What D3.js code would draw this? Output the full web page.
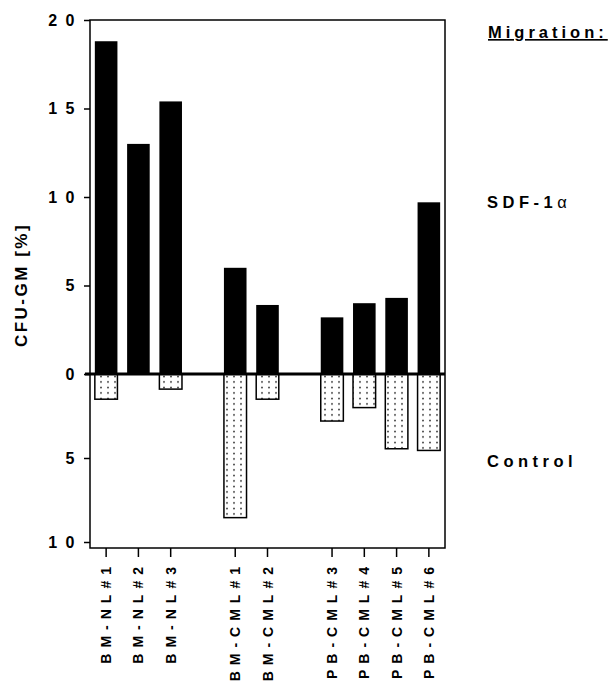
<html>

<head>
    <script src="https://cdnjs.cloudflare.com/ajax/libs/d3/7.1.1/d3.js"></script>
    <style>
        body { margin: 0; background: #fff; }
        text { font-family: 'Liberation Sans', Arial, Helvetica, sans-serif; font-weight: bold; }
    </style>
</head>

<body>
    <script>
        // samples, in plot order
        const categories = ['BM-NL#1', 'BM-NL#2', 'BM-NL#3', 'BM-CML#1', 'BM-CML#2',
            'PB-CML#3', 'PB-CML#4', 'PB-CML#5', 'PB-CML#6'];
        // an empty slot is left after these
        const gapAfter = ['BM-NL#3', 'BM-CML#2'];
        // CFU-GM [%] migrated towards SDF-1alpha (drawn up)
        const sdfValues = [18.8, 13.0, 15.4, 6.0, 3.9, 3.2, 4.0, 4.3, 9.7];
        // CFU-GM [%] migrated in control wells (drawn down)
        const controlValues = [1.5, 0, 0.9, 8.55, 1.5, 2.8, 2.0, 4.45, 4.55];
        const yTicks = [-10, -5, 0, 5, 10, 15, 20];

        const width = 615;
        const height = 683;
        const box = { left: 90, right: 445, top: 20, bottom: 548 };

        const slots = [];
        categories.forEach(c => {
            slots.push(c);
            if (gapAfter.includes(c)) {
                slots.push('gap' + slots.length);
            }
        });

        const svg = d3.select('body').append('svg')
            .attr('width', width)
            .attr('height', height);

        // dotted fill of the control bars
        const pattern = svg.append('defs').append('pattern')
            .attr('id', 'dots')
            .attr('patternUnits', 'userSpaceOnUse')
            .attr('width', 7)
            .attr('height', 5.5);
        pattern.append('rect')
            .attr('width', 7)
            .attr('height', 5.5)
            .attr('fill', 'white');
        pattern.append('circle')
            .attr('cx', 3)
            .attr('cy', 2.5)
            .attr('r', 0.8)
            .attr('fill', 'black');

        const x = d3.scaleBand()
            .domain(slots)
            .range([box.left, box.right])
            .paddingInner(0.3)
            .paddingOuter(0.15);

        // the lower half of the original axis is a little more compressed
        const y = d3.scaleLinear()
            .domain([-10, 0, 20])
            .range([542, 374, 20]);

        // SDF-1a bars
        svg.selectAll('.sdf')
            .data(categories)
            .enter().append('rect')
            .attr('class', 'sdf')
            .attr('x', d => x(d))
            .attr('width', x.bandwidth())
            .attr('y', (d, i) => y(sdfValues[i]))
            .attr('height', (d, i) => y(0) - y(sdfValues[i]))
            .attr('fill', 'black');

        // control bars
        svg.selectAll('.control')
            .data(categories.filter((d, i) => controlValues[i] > 0))
            .enter().append('rect')
            .attr('class', 'control')
            .attr('x', d => x(d))
            .attr('width', x.bandwidth())
            .attr('y', y(0))
            .attr('height', d => y(-controlValues[categories.indexOf(d)]) - y(0))
            .attr('fill', 'url(#dots)')
            .attr('stroke', 'black')
            .attr('stroke-width', 1.5);

        // frame
        svg.append('rect')
            .attr('x', box.left)
            .attr('y', box.top)
            .attr('width', box.right - box.left)
            .attr('height', box.bottom - box.top)
            .attr('fill', 'none')
            .attr('stroke', 'black')
            .attr('stroke-width', 1.5);

        // zero line
        svg.append('line')
            .attr('x1', box.left - 5)
            .attr('x2', box.right)
            .attr('y1', y(0))
            .attr('y2', y(0))
            .attr('stroke', 'black')
            .attr('stroke-width', 3);

        const yAxis = svg.append('g')
            .attr('transform', `translate(${box.left}, 0)`)
            .call(d3.axisLeft(y)
                .tickValues(yTicks)
                .tickSize(6)
                .tickPadding(1)
                .tickFormat(d => Math.abs(d)));
        yAxis.select('.domain').remove();
        yAxis.selectAll('.tick line').attr('stroke-width', 1.5);
        yAxis.selectAll('.tick text')
            .attr('font-size', 16)
            .style('letter-spacing', '8.5px')
            .attr('fill', 'black');

        const xAxis = svg.append('g')
            .attr('transform', `translate(0, ${box.bottom})`)
            .call(d3.axisBottom(x)
                .tickValues(categories)
                .tickSize(9));
        xAxis.select('.domain').remove();
        xAxis.selectAll('.tick line').attr('stroke-width', 1.5);
        xAxis.selectAll('.tick text')
            .attr('font-size', 14)
            .style('letter-spacing', '6px')
            .attr('transform', 'rotate(-90)')
            .attr('text-anchor', 'end')
            .attr('x', -13)
            .attr('y', 0)
            .attr('dy', '0.36em')
            .attr('fill', 'black');

        // y axis title
        svg.append('text')
            .attr('transform', 'translate(27, 285) rotate(-90)')
            .attr('text-anchor', 'middle')
            .attr('font-size', 17)
            .style('letter-spacing', '2.5px')
            .text('CFU-GM [%]');

        // labels on the right
        svg.append('text')
            .attr('x', 488)
            .attr('y', 38)
            .attr('font-size', 16.5)
            .attr('text-decoration', 'underline')
            .style('letter-spacing', '4px')
            .text('Migration:');

        const sdfLabel = svg.append('text')
            .attr('x', 487)
            .attr('y', 208)
            .attr('font-size', 16.5)
            .style('letter-spacing', '4.5px')
            .text('SDF-1');
        sdfLabel.append('tspan')
            .attr('font-weight', 'normal')
            .style('letter-spacing', '0px')
            .text('\u03b1');

        svg.append('text')
            .attr('x', 487)
            .attr('y', 467)
            .attr('font-size', 16.5)
            .style('letter-spacing', '4.5px')
            .text('Control');
    </script>
</body>

</html>
